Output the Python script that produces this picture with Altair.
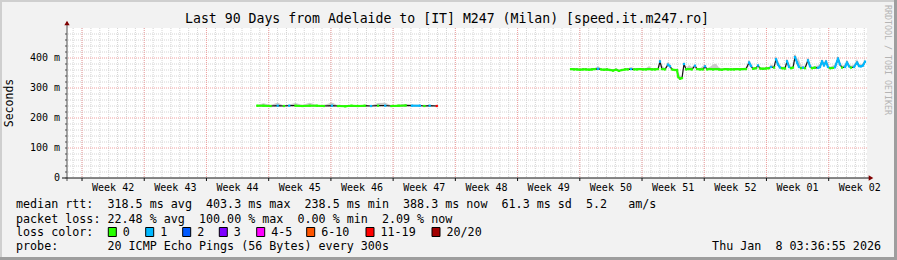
import altair as alt
import pandas as pd

# ---------------- data ----------------
title_text = "Last 90 Days from Adelaide to [IT] M247 (Milan) [speed.it.m247.ro]"
stats_rtt = "median rtt:  318.5 ms avg  403.3 ms max  238.5 ms min  388.3 ms now  61.3 ms sd  5.2   am/s"
stats_loss = "packet loss: 22.48 % avg  100.00 % max  0.00 % min  2.09 % now"
probe_text = "probe:       20 ICMP Echo Pings (56 Bytes) every 300s"
loss_row_label = "loss color:"
date_text = "Thu Jan  8 03:36:55 2026"
y_axis_title = "Seconds"
credit_text = "RRDTOOL / TOBI OETIKER"

week_labels = ["Week 42", "Week 43", "Week 44", "Week 45", "Week 46", "Week 47", "Week 48",
               "Week 49", "Week 50", "Week 51", "Week 52", "Week 01", "Week 02"]
first_week_start = 1.69          # days after the left edge of the 90-day window
y_ticks = [0, 100, 200, 300, 400]
y_tick_labels = ["0  ", "100 m", "200 m", "300 m", "400 m"]

loss_labels = ["0", "1", "2", "3", "4-5", "6-10", "11-19", "20/20"]
loss_colors = ["#26ff00", "#00b8ff", "#0059ff", "#7e00ff", "#ff00ff", "#ff5500", "#ff0000", "#a10000"]

# segment 1 (days from window start, median ms, lost pings, smoke above median ms)
s1_day = [21.4, 22.1, 22.9, 23.7, 24.4, 25.0, 25.7, 26.5, 27.3, 28.1, 28.9, 29.8, 30.5, 31.3,
          32.0, 32.7, 33.5, 34.2, 35.0, 35.8, 36.5, 37.3, 38.1, 38.8, 39.7, 40.2, 40.8, 41.6]
s1_ms = [241, 241, 240, 241, 240, 241, 241, 240, 241, 241, 240, 241, 240, 239,
         241, 240, 241, 240, 241, 241, 240, 241, 242, 241, 241, 240, 241, 240]
s1_loss = [0, 0, 0, 1, 0, 1, 0, 0, 0, 0, 0, 1, 0, 0,
           0, 0, 0, 1, 0, 1, 0, 0, 0, 1, 1, 0, 1, 12]
s1_smoke = [2, 8, 3, 10, 2, 4, 9, 3, 10, 2, 3, 11, 2, 3,
            2, 2, 3, 2, 9, 10, 2, 3, 2, 4, 3, 2, 3, 2]

# segment 2
s2_day = [56.70, 57.04, 57.38, 57.71, 58.05, 58.39, 58.73, 59.06, 59.40, 59.74,
          60.08, 60.41, 60.75, 61.09, 61.43, 61.76, 62.10, 62.44, 62.78, 63.11,
          63.45, 63.79, 64.13, 64.46, 64.80, 65.14, 65.48, 65.81, 66.15, 66.49,
          66.71, 66.94, 67.28, 67.61, 67.84, 68.06, 68.40, 68.63, 68.74, 68.96,
          69.19, 69.41, 69.64, 69.98, 70.31, 70.65, 70.88, 71.21, 71.55, 71.78,
          72.00, 72.34, 72.68, 73.01, 73.35, 73.69, 74.03, 74.36, 74.70, 75.04,
          75.38, 75.71, 76.05, 76.39, 76.73, 76.95, 77.18, 77.51, 77.74, 77.96,
          78.30, 78.64, 78.98, 79.20, 79.54, 79.76, 79.99, 80.21, 80.44, 80.78,
          81.00, 81.23, 81.45, 81.68, 81.90, 82.13, 82.35, 82.58, 82.80, 83.03,
          83.36, 83.59, 83.81, 84.15, 84.49, 84.71, 84.94, 85.16, 85.39, 85.61,
          85.84, 86.18, 86.40, 86.74, 86.96, 87.19, 87.53, 87.75, 87.98, 88.20,
          88.54, 88.88, 89.10, 89.33, 89.55, 89.78]
s2_ms = [363, 362, 362, 361, 362, 362, 361, 362, 363, 364,
         362, 361, 362, 360, 358, 361, 357, 360, 362, 362,
         363, 362, 362, 363, 362, 362, 363, 362, 362, 363,
         388, 363, 362, 378, 372, 362, 360, 360, 338, 331,
         333, 380, 362, 363, 362, 374, 363, 362, 362, 372,
         362, 363, 362, 363, 362, 361, 363, 362, 362, 362,
         363, 362, 363, 363, 385, 373, 364, 366, 375, 365,
         364, 365, 366, 370, 368, 396, 378, 368, 366, 365,
         389, 370, 366, 368, 403, 385, 370, 366, 368, 366,
         392, 372, 366, 368, 367, 370, 389, 375, 388, 370,
         366, 367, 369, 398, 378, 368, 370, 385, 372, 368,
         370, 385, 373, 372, 375, 388]
s2_loss = [0, 0, 0, 0, 0, 0, 0, 0, 0, 1,
           0, 0, 0, 0, 0, 0, 0, 0, 0, 0,
           1, 0, 0, 0, 0, 0, 0, 0, 0, 0,
           1, 0, 0, 1, 1, 0, 0, 0, 0, 0,
           0, 1, 0, 0, 0, 1, 0, 0, 0, 1,
           0, 0, 0, 0, 0, 0, 0, 0, 0, 0,
           0, 0, 0, 0, 1, 1, 0, 0, 1, 0,
           0, 0, 0, 1, 0, 1, 1, 1, 0, 0,
           1, 1, 0, 0, 1, 1, 1, 0, 1, 0,
           1, 1, 0, 0, 1, 1, 1, 1, 1, 1,
           0, 0, 1, 1, 1, 0, 1, 1, 1, 0,
           1, 1, 1, 1, 1, 1]
s2_smoke = [2, 3, 2, 3, 2, 3, 2, 3, 4, 9,
            3, 2, 3, 4, 3, 6, 4, 3, 2, 3,
            8, 3, 2, 3, 2, 4, 10, 3, 2, 4,
            8, 12, 4, 10, 6, 3, 2, 4, 20, 8,
            6, 10, 4, 14, 8, 6, 3, 4, 12, 6,
            4, 8, 16, 18, 6, 3, 4, 3, 2, 3,
            4, 3, 4, 5, 8, 10, 6, 4, 6, 5,
            4, 3, 5, 8, 6, 10, 14, 8, 5, 6,
            8, 12, 6, 8, 12, 14, 25, 10, 6, 8,
            10, 8, 6, 5, 8, 10, 8, 10, 8, 6,
            5, 8, 10, 8, 12, 6, 8, 10, 8, 6,
            8, 12, 8, 6, 8, 10]

# ---------------- build tables ----------------
def bucket(n):
    if n <= 3:
        return loss_labels[n]
    if n <= 5:
        return "4-5"
    if n <= 10:
        return "6-10"
    if n <= 19:
        return "11-19"
    return "20/20"

rows = []
for seg, (dd, mm, ll, ss) in enumerate([(s1_day, s1_ms, s1_loss, s1_smoke),
                                        (s2_day, s2_ms, s2_loss, s2_smoke)]):
    assert len(dd) == len(mm) == len(ll) == len(ss)
    for d, m, l, s in zip(dd, mm, ll, ss):
        rows.append({"seg": seg, "day": d, "ms": m, "loss": bucket(l), "hi": m + s})
med = pd.DataFrame(rows)

week_df = pd.DataFrame({"label": week_labels,
                        "start": [first_week_start + 7 * i for i in range(len(week_labels))]})
day_df = pd.DataFrame({"d": [first_week_start - 1 + k for k in range(91)
                             if 0 < first_week_start - 1 + k < 90]})
minor_y_df = pd.DataFrame({"v": [v for v in range(20, 500, 20) if v % 100 != 0]})
major_y_df = pd.DataFrame({"v": [v for v in y_ticks if v > 0]})
ytick_df = pd.DataFrame({"v": y_ticks, "label": [t.replace(" ", "\u00a0") for t in y_tick_labels]})
all_y_ticks_df = pd.DataFrame({"v": list(range(0, 500, 20))})

# ---------------- styling / layout ----------------
W, H = 800, 150
MONO = "DejaVu Sans Mono"
XS = alt.Scale(domain=[0, 90], nice=False, zero=False)
YS = alt.Scale(domain=[0, 500], nice=False, zero=False)
one = pd.DataFrame({"k": [0]})


def nb(s):
    return s.replace(" ", "\u00a0")


def txt(s, x, y, size=11.7, align="left", baseline="middle", color="#000000", angle=None):
    kw = dict(align=align, baseline=baseline, fontSize=size, font=MONO, color=color)
    if angle is not None:
        kw["angle"] = angle
    return alt.Chart(one).mark_text(**kw).encode(
        x=alt.value(x), y=alt.value(y), text=alt.value(nb(s)))


def box(x1, x2, y1, y2, fill, stroke=None):
    kw = dict(fill=fill)
    if stroke:
        kw.update(stroke=stroke, strokeWidth=1)
    else:
        kw.update(strokeWidth=0)
    return alt.Chart(one).mark_rect(**kw).encode(
        x=alt.value(x1), x2=alt.value(x2), y=alt.value(y1), y2=alt.value(y2))


layers = []

# frame shading
layers += [
    box(-67, 830, -28, -26, "#cfcfcf"),
    box(-67, -65, -28, 232, "#cfcfcf"),
    box(-67, 830, 229, 232, "#9e9e9e"),
    box(827, 830, -28, 232, "#9e9e9e"),
]

# grids
layers.append(alt.Chart(day_df).mark_rule(color="#d4d4d4", strokeDash=[1, 1], strokeWidth=1).encode(
    x=alt.X("d:Q", scale=XS, axis=None)))
layers.append(alt.Chart(minor_y_df).mark_rule(color="#d4d4d4", strokeDash=[1, 1], strokeWidth=1).encode(
    y=alt.Y("v:Q", scale=YS, axis=None)))
layers.append(alt.Chart(week_df).mark_rule(color="#f0a0a0", strokeDash=[1, 1], strokeWidth=1).encode(
    x=alt.X("start:Q", scale=XS, axis=None)))
layers.append(alt.Chart(major_y_df).mark_rule(color="#f0a0a0", strokeDash=[1, 1], strokeWidth=1).encode(
    y=alt.Y("v:Q", scale=YS, axis=None)))

# smoke
layers.append(alt.Chart(med).mark_area(color="#c4c4c4", opacity=0.9).encode(
    x=alt.X("day:Q", scale=XS, axis=None),
    y=alt.Y("ms:Q", scale=YS, axis=None),
    y2="hi:Q",
    detail="seg:N"))

# thin dark median line
layers.append(alt.Chart(med).mark_line(color="#111111", strokeWidth=1.2).encode(
    x=alt.X("day:Q", scale=XS, axis=None),
    y=alt.Y("ms:Q", scale=YS, axis=None),
    detail="seg:N"))

loss_scale = alt.Scale(domain=loss_labels, range=loss_colors)

# loss-coloured median pieces (only between neighbours of the same loss class)
layers.append(alt.Chart(med).transform_window(
    nday="lead(day)", nms="lead(ms)", nloss="lead(loss)",
    groupby=["seg"], sort=[alt.SortField("day", order="ascending")]
).transform_filter("datum.nday != null && datum.nloss == datum.loss").mark_rule(
    strokeWidth=2).encode(
    x=alt.X("day:Q", scale=XS, axis=None), x2="nday:Q",
    y=alt.Y("ms:Q", scale=YS, axis=None), y2="nms:Q",
    color=alt.Color("loss:N", scale=loss_scale, legend=None)))

layers.append(alt.Chart(med).mark_square(size=5, opacity=1).encode(
    x=alt.X("day:Q", scale=XS, axis=None),
    y=alt.Y("ms:Q", scale=YS, axis=None),
    color=alt.Color("loss:N", scale=loss_scale, legend=None)))

# axes
layers.append(alt.Chart(one).mark_rule(color="#505050", strokeWidth=1).encode(
    x=alt.value(0), y=alt.value(-6), y2=alt.value(153)))
layers.append(alt.Chart(one).mark_rule(color="#111111", strokeWidth=1).encode(
    x=alt.value(-5), x2=alt.value(802), y=alt.value(150)))
layers.append(alt.Chart(all_y_ticks_df).mark_rule(color="#505050", strokeWidth=1).encode(
    x=alt.value(-2), x2=alt.value(0), y=alt.Y("v:Q", scale=YS, axis=None)))
layers.append(alt.Chart(week_df).mark_rule(color="#111111", strokeWidth=1).encode(
    x=alt.X("start:Q", scale=XS, axis=None), y=alt.value(150), y2=alt.value(153)))
layers.append(alt.Chart(one).mark_point(shape="triangle-right", filled=True, size=28, color="#800000", opacity=1).encode(
    x=alt.value(804), y=alt.value(150)))
layers.append(alt.Chart(one).mark_point(shape="triangle-up", filled=True, size=28, color="#800000", opacity=1).encode(
    x=alt.value(0), y=alt.value(-5)))

# tick labels
layers.append(alt.Chart(ytick_df).mark_text(align="right", baseline="middle", font=MONO, fontSize=10,
                                            color="#000000").encode(
    x=alt.value(-7), y=alt.Y("v:Q", scale=YS, axis=None), text="label:N"))
layers.append(alt.Chart(week_df).transform_calculate(mid="datum.start + 3.5").mark_text(
    align="center", baseline="middle", font=MONO, fontSize=10, color="#000000").encode(
    x=alt.X("mid:Q", scale=XS, axis=None), y=alt.value(159.5), text="label:N"))

# titles
layers.append(txt(title_text, 380, -5, size=13.2, align="center", baseline="alphabetic"))
layers.append(txt(y_axis_title, -57, 75, size=11.5, align="center", angle=270))
layers.append(txt(credit_text, 820, 32, size=8.3, align="center", color="#b4b4b4", angle=90))

# legend / stats rows
layers.append(txt(stats_rtt, -51, 176))
layers.append(txt(stats_loss, -51, 190.5))
layers.append(txt(loss_row_label, -51, 204))
layers.append(txt(probe_text, -51, 218))
layers.append(txt(date_text, 814, 218, align="right"))

swatch_x = [108.3, 145.7, 182.7, 219.3, 256.7, 306.7, 366.0, 432.0]
for sx, lab, col in zip(swatch_x, loss_labels, loss_colors):
    layers.append(box(sx - 67, sx - 67 + 8, 199.5, 208.5, col, stroke="#000000"))
    layers.append(txt(lab, sx - 67 + 14.5, 204))

chart = alt.layer(*layers).properties(
    width=W, height=H,
    autosize=alt.AutoSizeParams(type="none"),
    padding={"left": 67, "top": 28, "right": 30, "bottom": 82},
    background="#f2f2f2",
).configure_view(fill="#ffffff", strokeWidth=0)

chart.save("out.html", embed_options={"renderer": "svg", "actions": False})
